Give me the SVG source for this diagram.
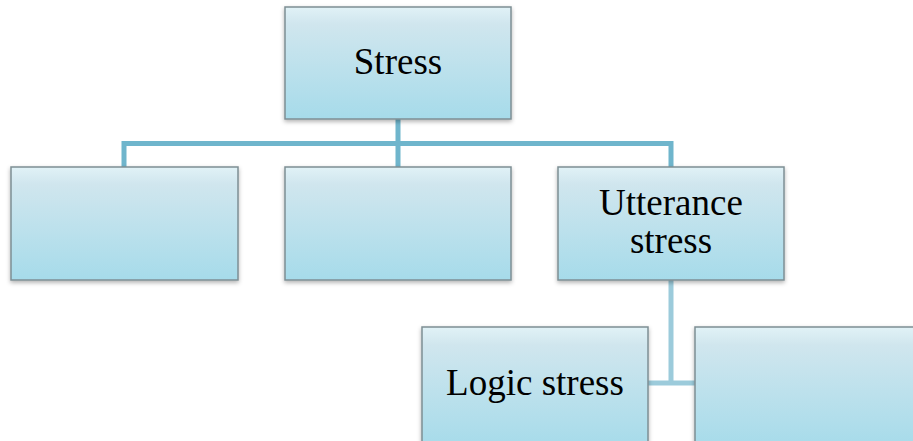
<svg xmlns="http://www.w3.org/2000/svg" width="913" height="441" viewBox="0 0 913 441">
<defs>
<linearGradient id="g" x1="0" y1="0" x2="0" y2="1">
<stop offset="0" stop-color="#e1f2f7"/>
<stop offset="0.15" stop-color="#d0e6ee"/>
<stop offset="1" stop-color="#a6dbea"/>
</linearGradient>
<filter id="sh" x="-10%" y="-10%" width="120%" height="130%">
<feDropShadow dx="0" dy="2" stdDeviation="2" flood-color="#000" flood-opacity="0.3"/>
</filter>
<style>
.box{fill:url(#g);stroke:#7e8e94;stroke-width:1.5;filter:url(#sh)}
.t{font-family:"Liberation Serif","Times New Roman",serif;font-size:37px;fill:#000;text-anchor:middle}
.c1{fill:none;stroke:#6fb5cc;stroke-width:5}
.c2{fill:none;stroke:#9ccbdb;stroke-width:5}
</style>
</defs>
<rect width="913" height="441" fill="#fff"/>
<g id="connectors">
<path class="c1" d="M398 119V167M124 167V143.5H671V167"/>
<path class="c2" d="M671 280V383M648 383H695"/>
</g>
<g id="stress"><rect class="box" x="285" y="7" width="226" height="112"/><text class="t" x="398" y="74">Stress</text></g>
<g id="empty1"><rect class="box" x="11" y="167" width="227" height="113"/></g>
<g id="empty2"><rect class="box" x="285" y="167" width="226" height="113"/></g>
<g id="utterance"><rect class="box" x="558" y="167" width="226" height="113"/><text class="t" x="671" y="215">Utterance</text><text class="t" x="671" y="253">stress</text></g>
<g id="logic"><rect class="box" x="422" y="327" width="226" height="120"/><text class="t" x="535" y="395">Logic stress</text></g>
<g id="empty3"><rect class="box" x="695" y="327" width="226" height="120"/></g>
</svg>
